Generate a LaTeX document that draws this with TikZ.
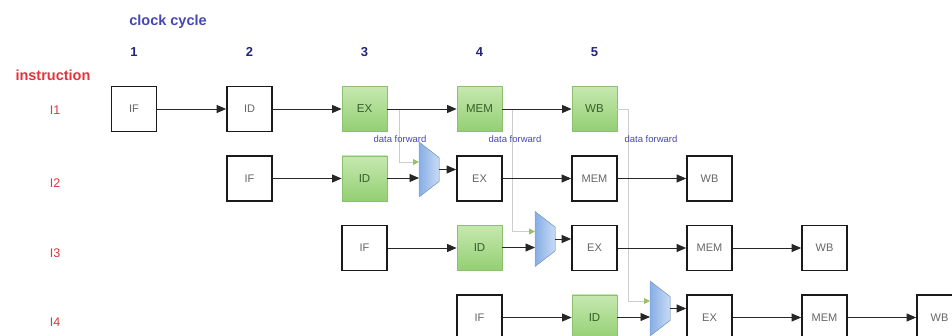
\documentclass[tikz,border=0pt]{standalone}
\usepackage{fontspec}
\setmainfont{Liberation Sans}
\usetikzlibrary{arrows.meta,calc}

\definecolor{stageedge}{HTML}{1A1A1A}
\definecolor{grnedge}{HTML}{8CBF6E}
\definecolor{grntop}{HTML}{C6E8B0}
\definecolor{grnbot}{HTML}{93CF72}
\definecolor{grntext}{HTML}{34602A}
\definecolor{muxedge}{HTML}{7EA2D6}
\definecolor{muxlight}{HTML}{C9DBF4}
\definecolor{muxdark}{HTML}{86AEE6}
\definecolor{fwdline}{HTML}{CDCDCD}
\definecolor{fwdtip}{HTML}{9DBF6A}
\definecolor{labblue}{HTML}{4646B4}
\definecolor{numblue}{HTML}{24247A}
\definecolor{labred}{HTML}{E2343C}

% multiplexer: #1 name, #2 left x, #3 centre y
\newcommand\muxat[3]{%
  \fill[left color=muxdark, right color=muxlight, draw=muxedge, line width=0.5pt]
    (#2,#3-27.5) -- (#2+20,#3-12) -- (#2+20,#3+12) -- (#2,#3+27.5) -- cycle;
  \coordinate (#1-a) at (#2,#3-7.5);
  \coordinate (#1-b) at (#2,#3+8.5);
  \coordinate (#1-o) at (#2+20,#3);
}

\begin{document}
\begin{tikzpicture}[x=1pt,y=-1pt,
  stagebox/.style={draw=stageedge, line width=1.7pt, fill=white,
    minimum width=45pt, minimum height=45pt, inner sep=0pt,
    text=black!60, font=\fontsize{11}{11}\selectfont},
  hotbox/.style={stagebox, draw=grnedge, line width=0.8pt,
    top color=grntop, bottom color=grnbot, text=grntext,
    font=\fontsize{11.5}{11.5}\selectfont},
  link/.style={-{Triangle[length=9.5pt,width=8pt]}, line width=0.9pt, draw=black!85},
  fwd/.style={draw=fwdline, line width=0.9pt,
    -{Triangle[length=6pt,width=6pt,color=fwdtip]}},
  fwdlabel/.style={text=labblue, font=\fontsize{9.5}{9.5}\selectfont},
  rowlabel/.style={text=labred, font=\fontsize{12.5}{12.5}\selectfont},
  cyclenum/.style={text=numblue, font=\bfseries\fontsize{13}{13}\selectfont}
]
\useasboundingbox (0,0) rectangle (952,336);
\clip (0,0) rectangle (952,336);

% headings
\node[text=labblue, font=\bfseries\fontsize{14.5}{14.5}\selectfont] (hdclock) at (168,22) {clock cycle};
\node[text=labred, font=\bfseries\fontsize{14.5}{14.5}\selectfont] (hdinstr) at (53,75) {instruction};
\foreach \n/\x in {1/134,2/249.5,3/364.5,4/479.5,5/594.5}
  \node[cyclenum] (cyc\n) at (\x,52) {\n};

% instruction labels
\node[rowlabel] (lab1) at (55,110) {I1};
\node[rowlabel] (lab2) at (55,183) {I2};
\node[rowlabel] (lab3) at (55,253) {I3};
\node[rowlabel] (lab4) at (55,322) {I4};

% row 1
\node[stagebox] (if1)  at (134,109)   {IF};
\node[stagebox] (id1)  at (249.5,109) {ID};
\node[hotbox]   (ex1)  at (364.5,109) {EX};
\node[hotbox]   (mem1) at (479.5,109) {MEM};
\node[hotbox]   (wb1)  at (594.5,109) {WB};

% row 2
\node[stagebox] (if2)  at (249.5,178.5) {IF};
\node[hotbox]   (id2)  at (364.5,178.5) {ID};
\node[stagebox] (ex2)  at (479.5,178.5) {EX};
\node[stagebox] (mem2) at (594.5,178.5) {MEM};
\node[stagebox] (wb2)  at (709.5,178.5) {WB};

% row 3
\node[stagebox] (if3)  at (364.5,248) {IF};
\node[hotbox]   (id3)  at (479.5,248) {ID};
\node[stagebox] (ex3)  at (594.5,248) {EX};
\node[stagebox] (mem3) at (709.5,248) {MEM};
\node[stagebox] (wb3)  at (824.5,248) {WB};

% row 4
\node[stagebox] (if4)  at (479.5,317.5) {IF};
\node[hotbox]   (id4)  at (594.5,317.5) {ID};
\node[stagebox] (ex4)  at (709.5,317.5) {EX};
\node[stagebox] (mem4) at (824.5,317.5) {MEM};
\node[stagebox] (wb4)  at (939.5,317.5) {WB};

% forwarding multiplexers
\muxat{mx2}{419}{169.5}
\muxat{mx3}{535}{239}
\muxat{mx4}{650}{308.5}

% forwarding paths
\draw[fwd] (ex1.east)  -- ++(12,0) |- (mx2-a);
\draw[fwd] (mem1.east) -- ++(10,0) |- (mx3-a);
\draw[fwd] (wb1.east)  -- ++(11,0) |- (mx4-a);
\node[fwdlabel] (fl1) at (400,139) {data forward};
\node[fwdlabel] (fl2) at (515,139) {data forward};
\node[fwdlabel] (fl3) at (651,139) {data forward};

% pipeline flow
\draw[link] (if1) -- (id1);
\draw[link] (id1) -- (ex1);
\draw[link] (ex1) -- (mem1);
\draw[link] (mem1) -- (wb1);

\draw[link] (if2) -- (id2);
\draw[link] (id2.east |- mx2-b) -- (mx2-b);
\draw[link] (mx2-o) -- (ex2.west |- mx2-o);
\draw[link] (ex2) -- (mem2);
\draw[link] (mem2) -- (wb2);

\draw[link] (if3) -- (id3);
\draw[link] (id3.east |- mx3-b) -- (mx3-b);
\draw[link] (mx3-o) -- (ex3.west |- mx3-o);
\draw[link] (ex3) -- (mem3);
\draw[link] (mem3) -- (wb3);

\draw[link] (if4) -- (id4);
\draw[link] (id4.east |- mx4-b) -- (mx4-b);
\draw[link] (mx4-o) -- (ex4.west |- mx4-o);
\draw[link] (ex4) -- (mem4);
\draw[link] (mem4) -- (wb4);
\end{tikzpicture}
\end{document}
